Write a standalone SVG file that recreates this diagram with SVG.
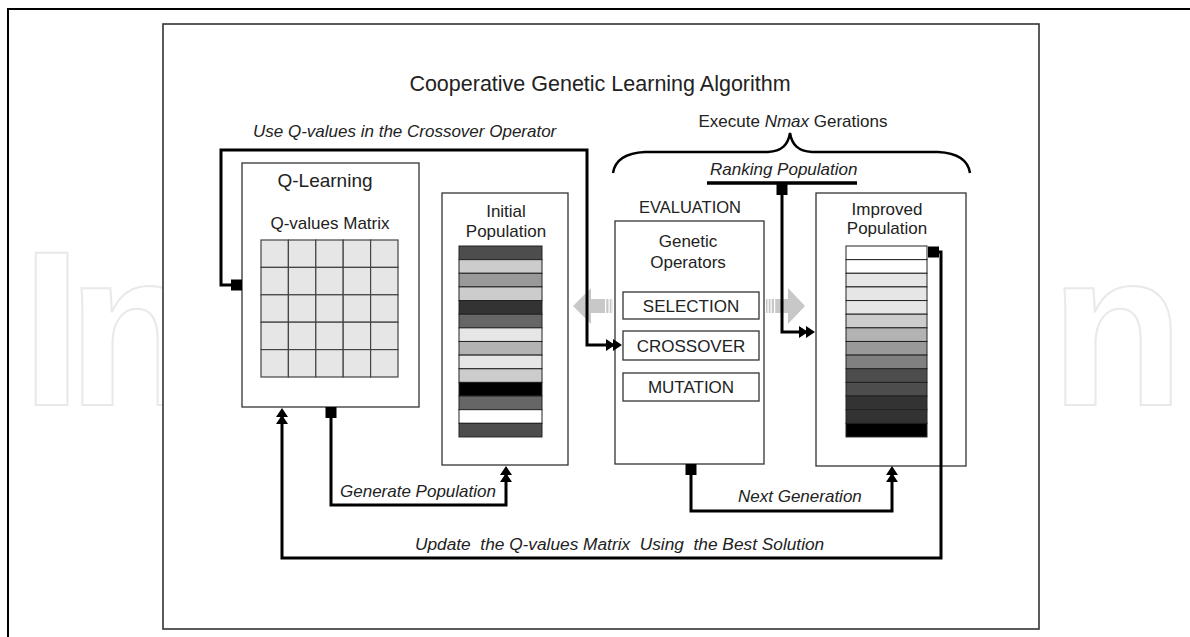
<svg xmlns="http://www.w3.org/2000/svg" width="1190" height="637" viewBox="0 0 1190 637">
<style>
text{font-family:"Liberation Sans",Arial,sans-serif;fill:#222}
.t17{font-size:17px}
.it{font-style:italic}
.box{fill:#fff;stroke:#333;stroke-width:1.3}
.conn{fill:none;stroke:#000;stroke-width:3;stroke-linejoin:miter}
.cell{fill:#e6e6e6;stroke:#444;stroke-width:1.2}
.st{stroke:#222;stroke-width:1}
.ga{fill:#c8c8c8}
text.wm{font-family:"Liberation Sans",Arial,sans-serif;font-weight:bold;font-size:220px;fill:#fff;stroke:#e9e9e9;stroke-width:2}
</style>
<defs>
<marker id="dbl" markerUnits="userSpaceOnUse" viewBox="-17 -7 18 14" refX="-5" refY="0" markerWidth="18" markerHeight="14" orient="auto"><path d="M0,0 L-9,-6 L-9,6 Z M-7,0 L-16,-6 L-16,6 Z" fill="#000"/></marker>
<marker id="sq" markerUnits="userSpaceOnUse" viewBox="0 -6 11 12" refX="0" refY="0" markerWidth="11" markerHeight="12" orient="auto"><rect x="0" y="-5.5" width="11" height="11" fill="#000"/></marker>
</defs>
<rect width="1190" height="637" fill="#fff"/>
<rect x="8" y="9" width="1300" height="800" fill="none" stroke="#000" stroke-width="2"/>
<g id="watermark">
<text class="wm" x="21 67" y="405">In</text>
<text class="wm" x="1050" y="405">n</text>
</g>
<rect id="frame" x="163" y="24" width="876" height="605" fill="#fff" stroke="#333" stroke-width="1.6"/>
<text x="600" y="91" text-anchor="middle" font-size="21.5">Cooperative Genetic Learning Algorithm</text>
<text class="t17" x="793" y="127" text-anchor="middle">Execute <tspan class="it">Nmax</tspan> Gerations</text>
<path d="M613,173 C615,160 625,153 645,152 L768,152 C782,151 788,145 790,133 C792,145 798,151 812,152 L938,152 C958,153 968,160 970,173" fill="none" stroke="#000" stroke-width="2.5"/>

<g id="qlearning">
<rect class="box" x="242" y="163" width="177" height="244"/>
<text x="325" y="187" text-anchor="middle" font-size="19">Q-Learning</text>
<text class="t17" x="330" y="229" text-anchor="middle">Q-values Matrix</text>
<g class="cell">
<rect x="261" y="240" width="27.4" height="27.4"/><rect x="288.4" y="240" width="27.4" height="27.4"/><rect x="315.8" y="240" width="27.4" height="27.4"/><rect x="343.2" y="240" width="27.4" height="27.4"/><rect x="370.6" y="240" width="27.4" height="27.4"/>
<rect x="261" y="267.4" width="27.4" height="27.4"/><rect x="288.4" y="267.4" width="27.4" height="27.4"/><rect x="315.8" y="267.4" width="27.4" height="27.4"/><rect x="343.2" y="267.4" width="27.4" height="27.4"/><rect x="370.6" y="267.4" width="27.4" height="27.4"/>
<rect x="261" y="294.8" width="27.4" height="27.4"/><rect x="288.4" y="294.8" width="27.4" height="27.4"/><rect x="315.8" y="294.8" width="27.4" height="27.4"/><rect x="343.2" y="294.8" width="27.4" height="27.4"/><rect x="370.6" y="294.8" width="27.4" height="27.4"/>
<rect x="261" y="322.2" width="27.4" height="27.4"/><rect x="288.4" y="322.2" width="27.4" height="27.4"/><rect x="315.8" y="322.2" width="27.4" height="27.4"/><rect x="343.2" y="322.2" width="27.4" height="27.4"/><rect x="370.6" y="322.2" width="27.4" height="27.4"/>
<rect x="261" y="349.6" width="27.4" height="27.4"/><rect x="288.4" y="349.6" width="27.4" height="27.4"/><rect x="315.8" y="349.6" width="27.4" height="27.4"/><rect x="343.2" y="349.6" width="27.4" height="27.4"/><rect x="370.6" y="349.6" width="27.4" height="27.4"/>
</g>
</g>

<g id="initial-population">
<rect class="box" x="442" y="193" width="126" height="272"/>
<text class="t17" x="506" y="217" text-anchor="middle">Initial</text>
<text class="t17" x="506" y="237" text-anchor="middle">Population</text>
<g class="st">
<rect x="459" y="246" width="83" height="13.64" fill="#4d4d4d"/>
<rect x="459" y="259.64" width="83" height="13.64" fill="#cccccc"/>
<rect x="459" y="273.28" width="83" height="13.64" fill="#999999"/>
<rect x="459" y="286.92" width="83" height="13.64" fill="#cccccc"/>
<rect x="459" y="300.56" width="83" height="13.64" fill="#333333"/>
<rect x="459" y="314.2" width="83" height="13.64" fill="#666666"/>
<rect x="459" y="327.84" width="83" height="13.64" fill="#e6e6e6"/>
<rect x="459" y="341.48" width="83" height="13.64" fill="#b3b3b3"/>
<rect x="459" y="355.12" width="83" height="13.64" fill="#e6e6e6"/>
<rect x="459" y="368.76" width="83" height="13.64" fill="#cccccc"/>
<rect x="459" y="382.4" width="83" height="13.64" fill="#000000"/>
<rect x="459" y="396.04" width="83" height="13.64" fill="#666666"/>
<rect x="459" y="409.68" width="83" height="13.64" fill="#ffffff"/>
<rect x="459" y="423.32" width="83" height="13.64" fill="#4d4d4d"/>
</g>
</g>

<g id="evaluation">
<text x="690" y="213" text-anchor="middle" font-size="16.5">EVALUATION</text>
<rect class="box" x="615" y="221" width="149" height="243"/>
<text class="t17" x="688" y="247" text-anchor="middle">Genetic</text>
<text class="t17" x="688" y="268" text-anchor="middle">Operators</text>
</g>
<g id="selection">
<rect class="box" x="623" y="292" width="136" height="27"/>
<text class="t17" x="691" y="312" text-anchor="middle">SELECTION</text>
</g>
<g id="crossover">
<rect class="box" x="623" y="331" width="136" height="29"/>
<text class="t17" x="691" y="352" text-anchor="middle">CROSSOVER</text>
</g>
<g id="mutation">
<rect class="box" x="623" y="373" width="136" height="28"/>
<text class="t17" x="691" y="393" text-anchor="middle">MUTATION</text>
</g>

<g id="improved-population">
<rect class="box" x="816" y="193" width="150" height="273"/>
<text class="t17" x="887" y="215" text-anchor="middle">Improved</text>
<text class="t17" x="887" y="234" text-anchor="middle">Population</text>
<g class="st">
<rect x="846" y="246" width="81" height="13.64" fill="#ffffff"/>
<rect x="846" y="259.64" width="81" height="13.64" fill="#ffffff"/>
<rect x="846" y="273.28" width="81" height="13.64" fill="#e6e6e6"/>
<rect x="846" y="286.92" width="81" height="13.64" fill="#e6e6e6"/>
<rect x="846" y="300.56" width="81" height="13.64" fill="#e6e6e6"/>
<rect x="846" y="314.2" width="81" height="13.64" fill="#cccccc"/>
<rect x="846" y="327.84" width="81" height="13.64" fill="#b3b3b3"/>
<rect x="846" y="341.48" width="81" height="13.64" fill="#999999"/>
<rect x="846" y="355.12" width="81" height="13.64" fill="#808080"/>
<rect x="846" y="368.76" width="81" height="13.64" fill="#4d4d4d"/>
<rect x="846" y="382.4" width="81" height="13.64" fill="#4d4d4d"/>
<rect x="846" y="396.04" width="81" height="13.64" fill="#333333"/>
<rect x="846" y="409.68" width="81" height="13.64" fill="#333333"/>
<rect x="846" y="423.32" width="81" height="13.64" fill="#000000"/>
</g>
</g>

<g id="connectors">
<polygon class="ga" points="573,306 591,288 591,299 613,299 613,313 591,313 591,324"/>
<rect x="605" y="298" width="1.2" height="16" fill="#fff"/><rect x="608.5" y="298" width="1.2" height="16" fill="#fff"/><rect x="611.5" y="298" width="1.2" height="16" fill="#fff"/>
<polygon class="ga" points="805,306 788,288 788,299 766,299 766,313 788,313 788,324"/>
<rect x="767.5" y="298" width="1.2" height="16" fill="#fff"/><rect x="770.5" y="298" width="1.2" height="16" fill="#fff"/><rect x="774" y="298" width="1.2" height="16" fill="#fff"/>
<path class="conn" d="M242,285 H221 V150 H587 V345 H617" marker-start="url(#sq)" marker-end="url(#dbl)"/>
<path d="M707,183 H857" stroke="#000" stroke-width="3.5"/>
<path class="conn" d="M782,184 V332 H810" marker-start="url(#sq)" marker-end="url(#dbl)"/>
<path class="conn" d="M928,252 H941 V558 H282 V413" marker-start="url(#sq)" marker-end="url(#dbl)"/>
<path class="conn" d="M331,407 V505 H506 V471" marker-start="url(#sq)" marker-end="url(#dbl)"/>
<path class="conn" d="M691,464 V511 H892 V471" marker-start="url(#sq)" marker-end="url(#dbl)"/>
<text class="t17 it" x="253" y="137">Use Q-values in the Crossover Operator</text>
<text class="t17 it" x="710" y="175">Ranking Population</text>
<text class="t17 it" x="340" y="497">Generate Population</text>
<text class="t17 it" x="738" y="502">Next Generation</text>
<text class="it" x="415" y="550" font-size="17.3" xml:space="preserve">Update  the Q-values Matrix  Using  the Best Solution</text>
</g>
</svg>
